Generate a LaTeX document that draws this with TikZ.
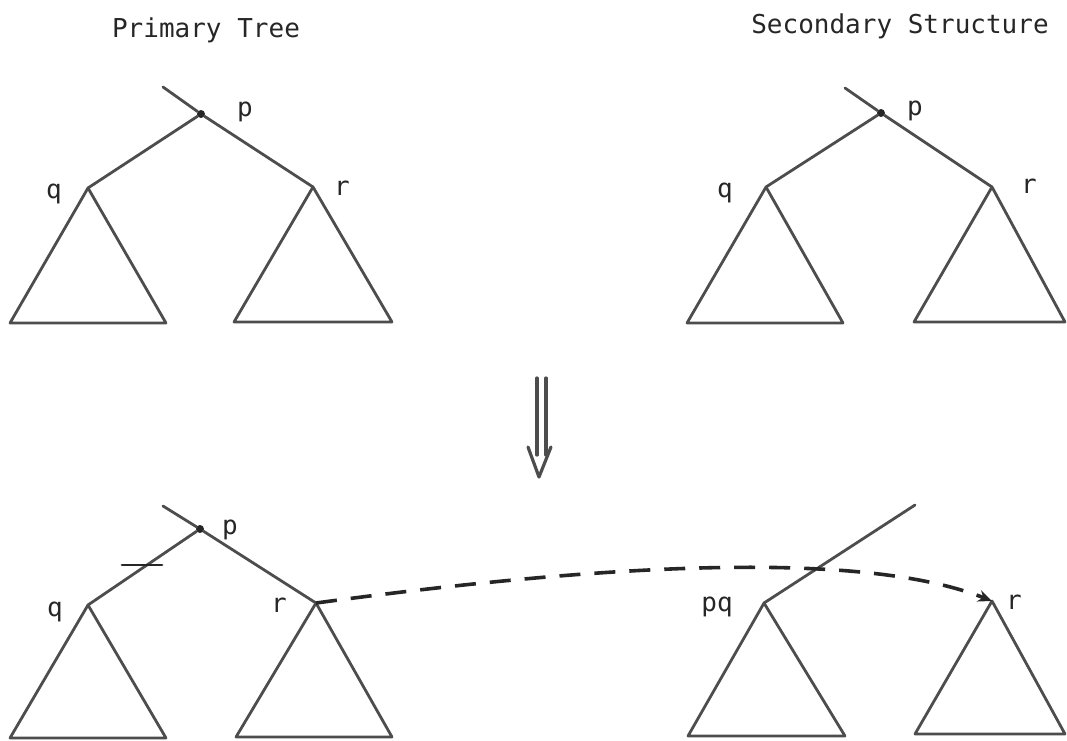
\documentclass[tikz,border=0pt]{standalone}
\usepackage{fontspec}
\setmonofont{DejaVu Sans Mono}
\usetikzlibrary{arrows.meta}
\definecolor{treegray}{HTML}{4D4D4D}
\definecolor{ink}{HTML}{262626}
\begin{document}
\begin{tikzpicture}[x=1pt,y=-1pt,
  edge/.style={line width=2.8pt, draw=treegray, line cap=round, line join=round},
  rootdot/.style={circle, fill=ink, inner sep=0pt, minimum size=8pt},
  lbl/.style={font=\ttfamily\fontsize{26}{30}\selectfont, text=ink, inner sep=0pt},
  ttl/.style={font=\ttfamily\fontsize{26}{30}\selectfont, text=ink, inner sep=0pt, anchor=base},
  move/.style={line width=3.6pt, draw=ink, dash pattern=on 21pt off 14pt, -{Stealth[length=14pt,width=12pt]}},
  implies/.style={line width=3.2pt, draw=treegray, line cap=round, line join=round}]
\useasboundingbox (0,0) rectangle (1067,740);

% titles
\node[ttl] (t1) at (206,37) {Primary Tree};
\node[ttl] (t2) at (900,33) {Secondary Structure};

% ---------- top-left: primary tree ----------
\node[rootdot] (A-p) at (201,114) {};
\coordinate (A-s) at (163,87);
\coordinate (A-q) at (88,188);
\coordinate (A-r) at (313,187);
\coordinate (A-q1) at (10,323);
\coordinate (A-q2) at (166,323);
\coordinate (A-r1) at (234,322);
\coordinate (A-r2) at (392,322);
\draw[edge] (A-s) -- (A-p);
\draw[edge] (A-p) -- (A-q);
\draw[edge] (A-p) -- (A-r);
\draw[edge] (A-q) -- (A-q1) -- (A-q2) -- cycle;
\draw[edge] (A-r) -- (A-r1) -- (A-r2) -- cycle;
\node[lbl] (A-pl) at (245,112) {p};
\node[lbl] (A-ql) at (54,194) {q};
\node[lbl] (A-rl) at (342,188) {r};

% ---------- top-right: secondary structure ----------
\node[rootdot] (B-p) at (881,113) {};
\coordinate (B-s) at (845,88);
\coordinate (B-q) at (766,187);
\coordinate (B-r) at (992,187);
\coordinate (B-q1) at (687,323);
\coordinate (B-q2) at (843,323);
\coordinate (B-r1) at (914,322);
\coordinate (B-r2) at (1065,322);
\draw[edge] (B-s) -- (B-p);
\draw[edge] (B-p) -- (B-q);
\draw[edge] (B-p) -- (B-r);
\draw[edge] (B-q) -- (B-q1) -- (B-q2) -- cycle;
\draw[edge] (B-r) -- (B-r1) -- (B-r2) -- cycle;
\node[lbl] (B-pl) at (915,111) {p};
\node[lbl] (B-ql) at (725,193) {q};
\node[lbl] (B-rl) at (1029,186) {r};

% ---------- implies arrow ----------
\coordinate (I-a1) at (537,378);
\coordinate (I-a2) at (537,455);
\coordinate (I-b1) at (546,378);
\coordinate (I-b2) at (546,455);
\coordinate (I-h1) at (528,447);
\coordinate (I-tip) at (539,477);
\coordinate (I-h2) at (551,447);
\draw[implies] (I-a1) -- (I-a2);
\draw[implies] (I-b1) -- (I-b2);
\draw[implies] (I-h1) -- (I-tip) -- (I-h2);

% ---------- bottom-left: primary tree after ----------
\node[rootdot] (C-p) at (200,529) {};
\coordinate (C-s) at (163,506);
\coordinate (C-q) at (88,605);
\coordinate (C-r) at (316,603);
\coordinate (C-q1) at (10,738);
\coordinate (C-q2) at (166,738);
\coordinate (C-r1) at (236,737);
\coordinate (C-r2) at (392,737);
\coordinate (C-t1) at (122,565);
\coordinate (C-t2) at (162,565);
\draw[edge] (C-s) -- (C-p);
\draw[edge] (C-p) -- (C-q);
\draw[edge] (C-p) -- (C-r);
\draw[edge] (C-q) -- (C-q1) -- (C-q2) -- cycle;
\draw[edge] (C-r) -- (C-r1) -- (C-r2) -- cycle;
\draw[edge, draw=ink] (C-t1) -- (C-t2);
\node[lbl] (C-pl) at (230,530) {p};
\node[lbl] (C-ql) at (55,612) {q};
\node[lbl] (C-rl) at (279,605) {r};

% ---------- bottom-right: secondary structure after ----------
\coordinate (D-pq) at (764,603);
\coordinate (D-s) at (915,505);
\coordinate (D-r) at (992,601);
\coordinate (D-q1) at (688,736);
\coordinate (D-q2) at (845,736);
\coordinate (D-r1) at (915,734);
\coordinate (D-r2) at (1065,734);
\draw[edge] (D-pq) -- (D-s);
\draw[edge] (D-pq) -- (D-q1) -- (D-q2) -- cycle;
\draw[edge] (D-r) -- (D-r1) -- (D-r2) -- cycle;
\node[lbl] (D-pql) at (717,607) {pq};
\node[lbl] (D-rl) at (1014,602) {r};

% ---------- dashed move arrow ----------
\draw[move] (C-r) .. controls (560,570) and (850,545) .. (D-r);

\end{tikzpicture}
\end{document}
